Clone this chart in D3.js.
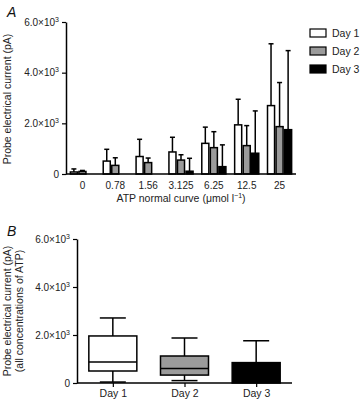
<!DOCTYPE html>
<html>
<head>
<meta charset="utf-8">
<script src="https://cdn.jsdelivr.net/npm/d3@7"></script>
<style>
  body { margin: 0; background: #fff; }
  svg { font-family: "Liberation Sans", Arial, sans-serif; }
</style>
</head>
<body>
<svg id="chart" width="360" height="402"></svg>
<script>
// Panel A: ATP normal curve, mean + SD per day
const concLabels = ["0", "0.78", "1.56", "3.125", "6.25", "12.5", "25"];
const days = ["Day 1", "Day 2", "Day 3"];
const day1Mean = [80, 510, 690, 870, 1210, 1940, 2700];
const day1Sd   = [120, 465, 680, 580, 640, 1010, 2440];
const day2Mean = [100, 340, 450, 550, 1040, 1120, 1870];
const day2Sd   = [40, 300, 180, 210, 630, 790, 1740];
const day3Mean = [0, 0, 0, 110, 290, 820, 1750];
const day3Sd   = [0, 0, 0, 510, 860, 1670, 3120];

// Panel B: box plots over all concentrations
const boxMin    = [40, 100, 0];
const boxQ1     = [500, 330, 0];
const boxMedian = [875, 600, 0];
const boxQ3     = [1960, 1125, 850];
const boxMax    = [2710, 1875, 1760];

const yTicks = [0, 2000, 4000, 6000];
const fills = ["#ffffff", "#9b9b9b", "#000000"];

const svg = d3.select("#chart");

// tick label like 2.0x10^3
function sciLabel(sel) {
  sel.each(function(d) {
    const t = d3.select(this).text("");
    if (d === 0) { t.text("0"); return; }
    t.append("tspan").text((d / 1000).toFixed(1) + "\u00d710");
    t.append("tspan").attr("dy", -4).attr("font-size", 7).text("3");
  });
}

function styleAxis(g) {
  g.selectAll(".domain").attr("stroke", "#000").attr("stroke-width", 1.5);
  g.selectAll(".tick line").attr("stroke", "#000").attr("stroke-width", 1.2);
  g.selectAll(".tick text").attr("fill", "#222").attr("font-size", 10);
}

// ---------- Panel A ----------
const aLeft = 66, aRight = 296, aTop = 22, aBottom = 174;

const x0 = d3.scaleBand().domain(concLabels).range([aLeft, aRight]).paddingInner(0.22).paddingOuter(0.11);
const x1 = d3.scaleBand().domain(days).range([0, x0.bandwidth()]);
const yA = d3.scaleLinear().domain([0, 6000]).range([aBottom, aTop]);

const means = [day1Mean, day2Mean, day3Mean];
const sds = [day1Sd, day2Sd, day3Sd];
const barData = [];
concLabels.forEach((c, i) => {
  days.forEach((d, j) => barData.push({ c, d, j, mean: means[j][i], sd: sds[j][i] }));
});

const gA = svg.append("g");

// error bars first so bars cover the lower part
const withErr = barData.filter(b => b.sd > 0);
gA.selectAll(".err")
  .data(withErr)
  .join("line")
  .attr("x1", b => x0(b.c) + x1(b.d) + x1.bandwidth() / 2)
  .attr("x2", b => x0(b.c) + x1(b.d) + x1.bandwidth() / 2)
  .attr("y1", b => yA(b.mean))
  .attr("y2", b => yA(b.mean + b.sd))
  .attr("stroke", "#000").attr("stroke-width", 1.5);

gA.selectAll(".cap")
  .data(withErr)
  .join("line")
  .attr("x1", b => x0(b.c) + x1(b.d) + x1.bandwidth() / 2 - 2.5)
  .attr("x2", b => x0(b.c) + x1(b.d) + x1.bandwidth() / 2 + 2.5)
  .attr("y1", b => yA(b.mean + b.sd))
  .attr("y2", b => yA(b.mean + b.sd))
  .attr("stroke", "#000").attr("stroke-width", 1.5);

gA.selectAll(".bar")
  .data(barData.filter(b => b.mean > 0))
  .join("rect")
  .attr("x", b => x0(b.c) + x1(b.d) + 0.75)
  .attr("width", x1.bandwidth() - 1.5)
  .attr("y", b => yA(b.mean))
  .attr("height", b => yA(0) - yA(b.mean))
  .attr("fill", b => fills[b.j])
  .attr("stroke", "#000").attr("stroke-width", 1.5);

const axAy = svg.append("g")
  .attr("transform", `translate(${aLeft},0)`)
  .call(d3.axisLeft(yA).tickValues(yTicks).tickSize(4).tickSizeOuter(0).tickPadding(3));
axAy.selectAll(".tick text").call(sciLabel);
styleAxis(axAy);

const axAx = svg.append("g")
  .attr("transform", `translate(0,${aBottom})`)
  .call(d3.axisBottom(x0).tickSize(0).tickPadding(8));
axAx.select(".domain").attr("d", `M${aLeft},0H${aRight}`);
styleAxis(axAx);

svg.append("text")
  .attr("x", 181).attr("y", 202)
  .attr("text-anchor", "middle").attr("font-size", 10.5).attr("fill", "#222")
  .text("ATP normal curve (\u03bcmol l")
  .append("tspan").attr("dy", -4).attr("font-size", 7).text("\u22121")
  .select(function() { return this.parentNode; })
  .append("tspan").attr("dy", 4).text(")");

svg.append("text")
  .attr("transform", `translate(11,${(aTop + aBottom) / 2 + 1}) rotate(-90)`)
  .attr("text-anchor", "middle").attr("font-size", 10.5).attr("fill", "#222")
  .text("Probe electrical current (pA)");

svg.append("text")
  .attr("x", 7).attr("y", 17)
  .attr("font-size", 14).attr("font-style", "italic").attr("fill", "#111")
  .text("A");

// legend
const leg = svg.append("g").attr("transform", "translate(310,29)");
days.forEach((d, j) => {
  leg.append("rect")
    .attr("x", 0).attr("y", j * 18)
    .attr("width", 16).attr("height", 8)
    .attr("fill", fills[j]).attr("stroke", "#000").attr("stroke-width", 1.2);
  leg.append("text")
    .attr("x", 22).attr("y", j * 18 + 8)
    .attr("font-size", 10.5).attr("fill", "#222")
    .text(d);
});

// ---------- Panel B ----------
const bLeft = 77, bRight = 292, bTop = 239, bBottom = 383;
const xB = d3.scalePoint().domain(days).range([bLeft, bRight]).padding(0.5);
const yB = d3.scaleLinear().domain([0, 6000]).range([bBottom, bTop]);
const boxW = 48, capW = 26;

const boxes = days.map((d, j) => ({
  d, j, min: boxMin[j], q1: boxQ1[j], med: boxMedian[j], q3: boxQ3[j], max: boxMax[j]
}));

const gB = svg.append("g");
boxes.forEach(b => {
  const cx = xB(b.d);
  const g = gB.append("g");
  // whiskers
  g.append("line")
    .attr("x1", cx).attr("x2", cx)
    .attr("y1", yB(b.q3)).attr("y2", yB(b.max))
    .attr("stroke", "#000").attr("stroke-width", 1.5);
  g.append("line")
    .attr("x1", cx - capW / 2).attr("x2", cx + capW / 2)
    .attr("y1", yB(b.max)).attr("y2", yB(b.max))
    .attr("stroke", "#000").attr("stroke-width", 1.5);
  if (b.q1 > b.min) {
    g.append("line")
      .attr("x1", cx).attr("x2", cx)
      .attr("y1", yB(b.q1)).attr("y2", yB(b.min))
      .attr("stroke", "#000").attr("stroke-width", 1.5);
    g.append("line")
      .attr("x1", cx - capW / 2).attr("x2", cx + capW / 2)
      .attr("y1", yB(b.min)).attr("y2", yB(b.min))
      .attr("stroke", "#000").attr("stroke-width", 1.5);
  }
  g.append("rect")
    .attr("x", cx - boxW / 2).attr("width", boxW)
    .attr("y", yB(b.q3)).attr("height", yB(b.q1) - yB(b.q3))
    .attr("fill", fills[b.j]).attr("stroke", "#000").attr("stroke-width", 1.5);
  if (b.med > 0) {
    g.append("line")
      .attr("x1", cx - boxW / 2).attr("x2", cx + boxW / 2)
      .attr("y1", yB(b.med)).attr("y2", yB(b.med))
      .attr("stroke", "#000").attr("stroke-width", 1.5);
  }
});

const axBy = svg.append("g")
  .attr("transform", `translate(${bLeft},0)`)
  .call(d3.axisLeft(yB).tickValues(yTicks).tickSize(4).tickSizeOuter(0).tickPadding(3));
axBy.selectAll(".tick text").call(sciLabel);
styleAxis(axBy);

const axBx = svg.append("g")
  .attr("transform", `translate(0,${bBottom})`)
  .call(d3.axisBottom(xB).tickSize(4).tickSizeOuter(0).tickPadding(3));
axBx.select(".domain").attr("d", `M${bLeft},0H${bRight}`);
styleAxis(axBx);
axBx.selectAll(".tick text").attr("font-size", 10.5);

const yLabB = svg.append("text")
  .attr("transform", `translate(0,${(bTop + bBottom) / 2}) rotate(-90)`)
  .attr("text-anchor", "middle").attr("font-size", 10.5).attr("fill", "#222");
yLabB.append("tspan").attr("x", 0).attr("y", 11).text("Probe electrical current (pA)");
yLabB.append("tspan").attr("x", 0).attr("y", 23).text("(all concentrations of ATP)");

svg.append("text")
  .attr("x", 7).attr("y", 236)
  .attr("font-size", 14).attr("font-style", "italic").attr("fill", "#111")
  .text("B");
</script>
</body>
</html>
